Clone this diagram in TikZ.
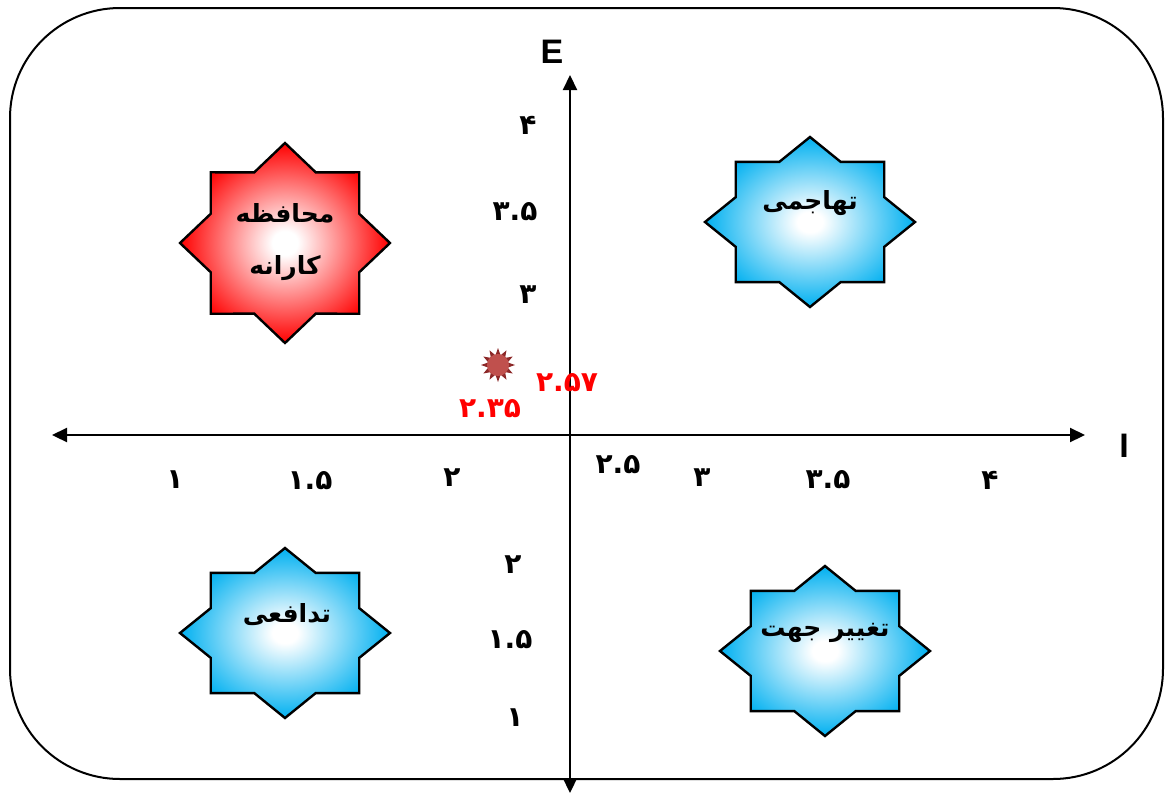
\documentclass[tikz,border=0pt]{standalone}
\usepackage{fontspec}
\setsansfont{Liberation Sans}
\newfontfamily\arabicfont[Script=Arabic]{DejaVu Sans}
\TeXXeTstate=1
\usetikzlibrary{arrows.meta,shapes.geometric}

\definecolor{quadblue}{RGB}{0,176,240}
\definecolor{quadred}{RGB}{255,0,0}
\definecolor{sunbody}{RGB}{192,80,77}
\definecolor{sunray}{RGB}{140,40,40}

\pgfdeclareradialshading{blueglow}{\pgfpoint{0bp}{0bp}}{color(0bp)=(white); color(3bp)=(white); color(25bp)=(quadblue); color(50bp)=(quadblue)}
\pgfdeclareradialshading{redglow}{\pgfpoint{0bp}{0bp}}{color(0bp)=(white); color(3bp)=(white); color(25bp)=(quadred); color(50bp)=(quadred)}

\tikzset{
  frame/.style={line width=1pt, rounded corners=55pt},
  axis/.style={line width=1.1pt, arrows={Triangle[length=7.5pt,width=7pt]-Triangle[length=7.5pt,width=7pt]}},
  octline/.style={draw=black, line width=1.2pt, shade, shading=#1},
  startext/.style={font=\arabicfont\bfseries\fontsize{12.5}{26}\selectfont, align=center},
  tick/.style={font=\arabicfont\bfseries\fontsize{14}{16}\selectfont},
  score/.style={tick, text=quadred},
  axisname/.style={font=\sffamily\bfseries\fontsize{17}{19}\selectfont}
}

% centre x, centre y, half width, half height, shading
\newcommand{\octstar}[5]{%
  \path[octline=#5] ({#1+#3},{#2})
    \foreach \k in {1,...,15}{
      -- ({#1+#3*(1-0.235*isodd(\k))*cos(22.5*\k)},{#2+#4*(1-0.235*isodd(\k))*sin(22.5*\k)})
    } -- cycle;}

\begin{document}
\begin{tikzpicture}[x=0.5pt,y=-0.5pt]
\useasboundingbox (0,0) rectangle (1169,794);
\draw[frame] (10,8) rectangle (1163,779);

% quadrant stars
\octstar{285}{243}{105}{100}{redglow}
\octstar{810}{222}{105}{85}{blueglow}
\octstar{285}{633}{105}{85}{blueglow}
\octstar{825}{651}{105}{85}{blueglow}
\node[startext] (conservative) at (285,242) {\beginR محافظه\endR\\\beginR کارانه\endR};
\node[startext] (aggressive) at (810,203) {\beginR تهاجمی\endR};
\node[startext] (defensive) at (287,615) {\beginR تدافعی\endR};
\node[startext] (turnaround) at (825,633) {\beginR تغییر جهت\endR};

% axes
\coordinate (west) at (52,435);
\coordinate (east) at (1085,435);
\coordinate (north) at (570,75);
\coordinate (south) at (570,793);
\draw[axis] (west) -- (east);
\draw[axis] (south) -- (north);
\node[axisname] (elabel) at (552,52) {E};
\node[axisname] (ilabel) at (1124,446) {I};

% ticks on I
\node[tick] (i1) at (175,480) {۱};
\node[tick] (i15) at (310,481) {۱.۵};
\node[tick] (i2) at (452,478) {۲};
\node[tick] (i25) at (618,465) {۲.۵};
\node[tick] (i3) at (702,478) {۳};
\node[tick] (i35) at (828,480) {۳.۵};
\node[tick] (i4) at (990,480) {۴};

% ticks on E
\node[tick] (e4) at (528,125) {۴};
\node[tick] (e35) at (515,212) {۳.۵};
\node[tick] (e3) at (528,295) {۳};
\node[tick] (e2) at (513,565) {۲};
\node[tick] (e15) at (510,640) {۱.۵};
\node[tick] (e1) at (515,718) {۱};

% position of the firm
\node[star, star points=12, star point ratio=1.7, fill=sunray, minimum size=17pt, inner sep=0pt] (mark) at (498,365) {};
\node[circle, fill=sunbody, minimum size=11pt, inner sep=0pt] (markcore) at (mark) {};
\node[score] (escore) at (567,383) {۲.۵۷};
\node[score] (iscore) at (490,409) {۲.۳۵};
\end{tikzpicture}
\end{document}
